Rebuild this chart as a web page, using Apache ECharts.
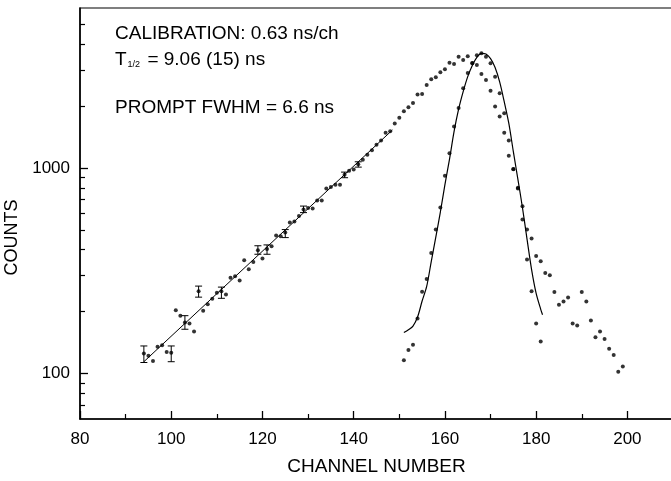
<!DOCTYPE html>
<html><head><meta charset="utf-8">
<script src="https://cdn.jsdelivr.net/npm/echarts@6.0.0/dist/echarts.min.js"></script>
<style>html,body{margin:0;padding:0;background:#fff}#c{width:671px;height:481px}</style>
</head><body><div id="c"></div>
<script>
// ---- data ----
const delayedChannels = [94,95,96,97,98,99,100,101,102,103,104,105,106,107,108,109,110,111,112,113,114,115,116,117,118,119,120,121,122,123,124,125,126,127,128,129,130,131,132,133,134,135,136,137,138,139,140,141,142,143,144,145,146,147,148,149,150,151,152,153,154,155,156,157,158,159,160,161,162,163,164,165,166,167,168,169,170,171,172,173,174,175,176,177,178,179,180,181,182,183,184,185,186,187,188,189,190,191,192,193,194,195,196,197,198,199];
const delayedCounts = [125,122,115,135,137,127,126,203,191,177,175,160,251,202,217,231,247,251,242,292,297,283,355,321,348,398,362,403,416,469,465,485,542,548,583,627,638,634,695,695,793,807,829,828,927,969,983,1043,1096,1160,1220,1297,1359,1483,1510,1644,1754,1889,1973,2072,2275,2292,2535,2699,2760,2918,3019,3250,3205,3475,3350,3490,3228,3170,2864,2680,2376,1990,1778,1483,1146,984,800,651,501,454,373,351,308,300,249,216,224,234,175,171,249,224,181,150,160,147,132,123,102,108];

const promptChannels = [151,152,153,154,155,156,157,158,159,160,161,162,163,164,165,166,167,168,169,170,171,172,173,174,175,176,177,178,179,180,181];
const promptCounts = [116,130,138,185,250,288,385,501,641,916,1180,1590,1958,2439,2897,3244,3535,3609,3475,3228,2781,2307,1845,1359,987,793,561,358,251,175,143];

const errChannels = [94,100,103,106,111,119,121,125,129,138,141];
const errLow  = [113,114,164,235,232,380,380,458,606,896,1009];
const errHigh = [136,136,191,266,263,418,422,501,652,954,1071];

const fitChannels = [94,148.5];
const fitCounts = [114,1530];

const gaussChannels = [151,152,153,154,155,156,157,158,159,160,161,162,163,164,165,166,167,168,169,170,171,172,173,174,175,176,177,178,179,180,181,181.4];
const gaussCounts = [158,163,170,188,225,265,350,460,610,830,1100,1500,1930,2350,2780,3150,3450,3610,3580,3400,3080,2620,2100,1650,1200,880,640,450,320,245,205,193];

const xMajorTicks = [80,100,120,140,160,180,200];
const xMinorTicks = [90,110,130,150,170,190];
const yMajorTicks = [100,1000];
const yMinorTicks = [70,80,90,200,300,400,500,600,700,800,900,2000,3000,4000,5000];

const annotations = ['CALIBRATION: 0.63 ns/ch', '{a|T}{b|1/2}{a| = 9.06 (15) ns}', 'PROMPT FWHM = 6.6 ns'];

// ---- chart ----
const FONT = '"Liberation Sans", Arial, Helvetica, sans-serif';
const zip = (a, b) => a.map((v, i) => [v, b[i]]);

const chart = echarts.init(document.getElementById('c'), null, {renderer: 'canvas'});
const option = {
  animation: false,
  backgroundColor: '#ffffff',
  textStyle: {fontFamily: FONT, color: '#000'},
  grid: {left: 80, top: 8, right: -2, bottom: 62, outerBoundsMode: 'none', containLabel: false,
         show: true, borderColor: '#000', borderWidth: 1.2, backgroundColor: 'transparent'},
  xAxis: [{
    type: 'value', min: 80, max: 210,
    name: 'CHANNEL NUMBER', nameLocation: 'middle', nameGap: 38,
    nameTextStyle: {fontSize: 19, color: '#000', fontFamily: FONT},
    axisLine: {show: true, onZero: false, lineStyle: {color: '#000', width: 1.5}},
    axisTick: {show: true, inside: true, length: 8, customValues: xMajorTicks, lineStyle: {color: '#000', width: 1.3}},
    axisLabel: {show: true, customValues: xMajorTicks, fontSize: 17, color: '#000', margin: 12, fontFamily: FONT},
    splitLine: {show: false}
  }, {
    type: 'value', min: 80, max: 210, position: 'bottom',
    axisLine: {show: false, onZero: false},
    axisTick: {show: true, inside: true, length: 5, customValues: xMinorTicks, lineStyle: {color: '#000', width: 1.2}},
    axisLabel: {show: false}, splitLine: {show: false}
  }],
  yAxis: [{
    type: 'log', logBase: 10, min: 60, max: 6000,
    name: 'COUNTS', nameLocation: 'middle', nameGap: 52,
    nameTextStyle: {fontSize: 18, color: '#000', fontFamily: FONT, padding: [0, 48, 0, 0]},
    axisLine: {show: true, onZero: false, lineStyle: {color: '#000', width: 1.5}},
    axisTick: {show: true, inside: true, length: 8, customValues: yMajorTicks, lineStyle: {color: '#000', width: 1.3}},
    axisLabel: {show: true, customValues: yMajorTicks, fontSize: 17, color: '#000', margin: 10, fontFamily: FONT,
                formatter: v => String(Math.round(v))},
    splitLine: {show: false}
  }, {
    type: 'log', logBase: 10, min: 60, max: 6000, position: 'left',
    axisLine: {show: false, onZero: false},
    axisTick: {show: true, inside: true, length: 5, customValues: yMinorTicks, lineStyle: {color: '#000', width: 1.2}},
    axisLabel: {show: false}, splitLine: {show: false}
  }],
  graphic: [
    {type: 'text', x: 115, y: 34, silent: true, style: {text: annotations[0], fontSize: 19, fontFamily: FONT, fill: '#000', verticalAlign: 'middle'}},
    {type: 'text', x: 115, y: 60, silent: true, style: {text: annotations[1], verticalAlign: 'middle', fill: '#000',
      rich: {a: {fontSize: 19, lineHeight: 19, fontFamily: FONT, fill: '#000'},
             b: {fontSize: 9, lineHeight: 2, fontFamily: FONT, fill: '#000', verticalAlign: 'bottom', padding: [0, 2, 0, 1]}}}},
    {type: 'text', x: 115, y: 108, silent: true, style: {text: annotations[2], fontSize: 19, fontFamily: FONT, fill: '#000', verticalAlign: 'middle'}}
  ],
  series: [
    {type: 'line', name: 'fit', data: zip(fitChannels, fitCounts), showSymbol: false, symbol: 'none',
     lineStyle: {color: '#000', width: 1}, silent: true, z: 2},
    {type: 'line', name: 'prompt fit', data: zip(gaussChannels, gaussCounts), showSymbol: false, symbol: 'none', smooth: 0.3,
     lineStyle: {color: '#000', width: 1.2}, silent: true, z: 2},
    {type: 'custom', name: 'errors', data: errChannels.map((c, i) => [c, errLow[i], errHigh[i]]),
     encode: {x: 0, y: [1, 2]}, z: 3, silent: true,
     renderItem: function (params, api) {
       const lo = api.coord([api.value(0), api.value(1)]);
       const hi = api.coord([api.value(0), api.value(2)]);
       const w = 3.5;
       const st = {stroke: '#000', lineWidth: 1};
       return {type: 'group', children: [
         {type: 'line', shape: {x1: lo[0], y1: lo[1], x2: hi[0], y2: hi[1]}, style: st},
         {type: 'line', shape: {x1: lo[0] - w, y1: lo[1], x2: lo[0] + w, y2: lo[1]}, style: st},
         {type: 'line', shape: {x1: hi[0] - w, y1: hi[1], x2: hi[0] + w, y2: hi[1]}, style: st}
       ]};
     }},
    {type: 'scatter', name: 'delayed', data: zip(delayedChannels, delayedCounts), symbol: 'circle', symbolSize: 4,
     itemStyle: {color: '#000'}, z: 4},
    {type: 'scatter', name: 'prompt', data: zip(promptChannels, promptCounts), symbol: 'circle', symbolSize: 4,
     itemStyle: {color: '#000'}, z: 4}
  ]
};
chart.setOption(option);
</script>
</body></html>
